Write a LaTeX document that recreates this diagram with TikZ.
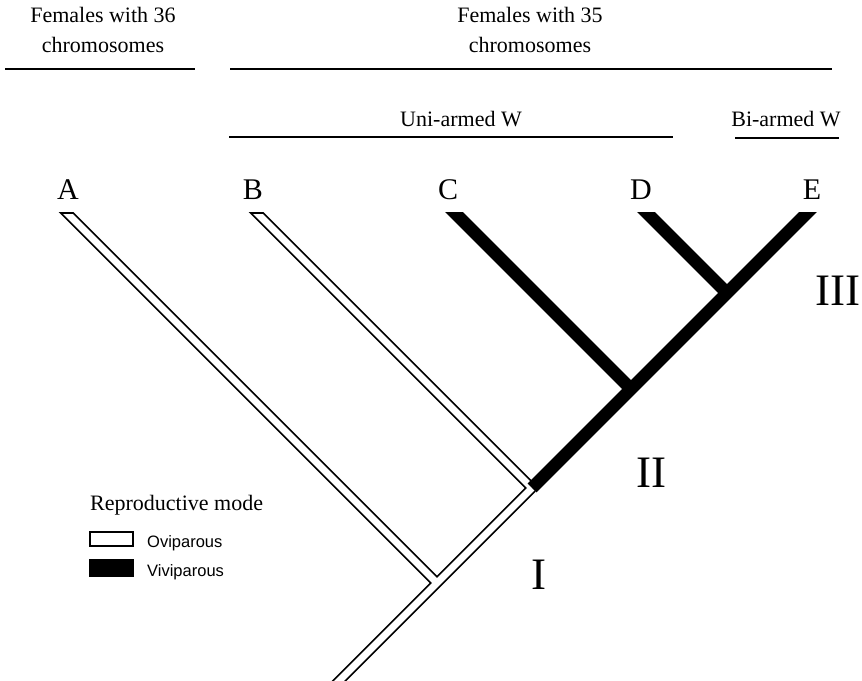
\documentclass[tikz,border=0pt]{standalone}
\usepackage{fontspec}
\setmainfont{Liberation Serif}
\newfontfamily\legendfont{Liberation Sans}
\usetikzlibrary{positioning}

\begin{document}
\begin{tikzpicture}[
    x=1pt, y=-1pt,
    ovi/.style={line width=10.5pt, black},
    oviin/.style={line width=7pt, white},
    vivi/.style={line width=12.5pt, black},
    letter/.style={font=\fontsize{30}{30}\selectfont, inner sep=0pt},
    numeral/.style={font=\fontsize{45}{45}\selectfont, inner sep=0pt},
    heading/.style={font=\fontsize{22}{30}\selectfont, align=center, inner sep=0pt},
    hline/.style={line width=2pt},
    legendtext/.style={font=\legendfont\fontsize{16.5}{18}\selectfont, inner sep=0pt, anchor=base west}
]
    \useasboundingbox (0,0) rectangle (862,680);

    % Headings
    \node[heading] (hd36) at (103,30) {Females with 36\\chromosomes};
    \node[heading] (hd35) at (530,30) {Females with 35\\chromosomes};
    \draw[hline] (5,69) -- (195,69);
    \draw[hline] (230,69) -- (832,69);
    \node[heading, anchor=base] (uniW) at (461,126) {Uni-armed W};
    \draw[hline] (229,137) -- (673,137);
    \node[heading, anchor=base] (biW) at (786,126) {Bi-armed W};
    \draw[hline] (735,138) -- (839,138);

    % Tree points
    \coordinate (root) at (330,690);
    \coordinate (nI) at (437,583);
    \coordinate (nII) at (532,488);
    \coordinate (nIII) at (631,389);
    \coordinate (nIV) at (727,293);
    \coordinate (tA) at (54,200);
    \coordinate (tB) at (244,200);
    \coordinate (tC) at (442,200);
    \coordinate (tD) at (634,200);
    \coordinate (tE) at (820,200);

    % Oviparous branches
    \begin{scope}
        \clip (0,212) rectangle (862,680);
        \draw[ovi] (root) -- (nII);
        \draw[ovi] (tA) -- (nI);
        \draw[ovi] (tB) -- (nII);
    \end{scope}
    \begin{scope}
        \clip (0,214) rectangle (862,680);
        \draw[oviin] (root) -- (nII);
        \draw[oviin] (tA) -- (nI);
        \draw[oviin] (tB) -- (nII);
    \end{scope}

    % Viviparous branches
    \begin{scope}
        \clip (0,212) rectangle (862,680);
        \draw[vivi] (nII) -- (tE);
        \draw[vivi] (tC) -- (nIII);
        \draw[vivi] (tD) -- (nIV);
    \end{scope}

    % Taxa
    \node[letter] (lblA) at (68,190) {A};
    \node[letter] (lblB) at (253,190) {B};
    \node[letter] (lblC) at (448,190) {C};
    \node[letter] (lblD) at (641,190) {D};
    \node[letter] (lblE) at (812,190) {E};

    % Nodes
    \node[numeral] (numI) at (539,575) {I};
    \node[numeral] (numII) at (651,473) {II};
    \node[numeral] (numIII) at (838,291) {III};

    % Legend
    \node[anchor=base west, inner sep=0pt, font=\fontsize{22}{26}\selectfont] (legTitle) at (90,510) {Reproductive mode};
    \node[draw, line width=2pt, minimum width=43pt, minimum height=14pt, inner sep=0pt] (oviBox) at (111.5,539) {};
    \node[fill=black, minimum width=45pt, minimum height=18pt, inner sep=0pt] (viviBox) at (111.5,568) {};
    \node[legendtext] (oviText) at (147,547) {Oviparous};
    \node[legendtext] (viviText) at (147,576) {Viviparous};

\end{tikzpicture}
\end{document}
